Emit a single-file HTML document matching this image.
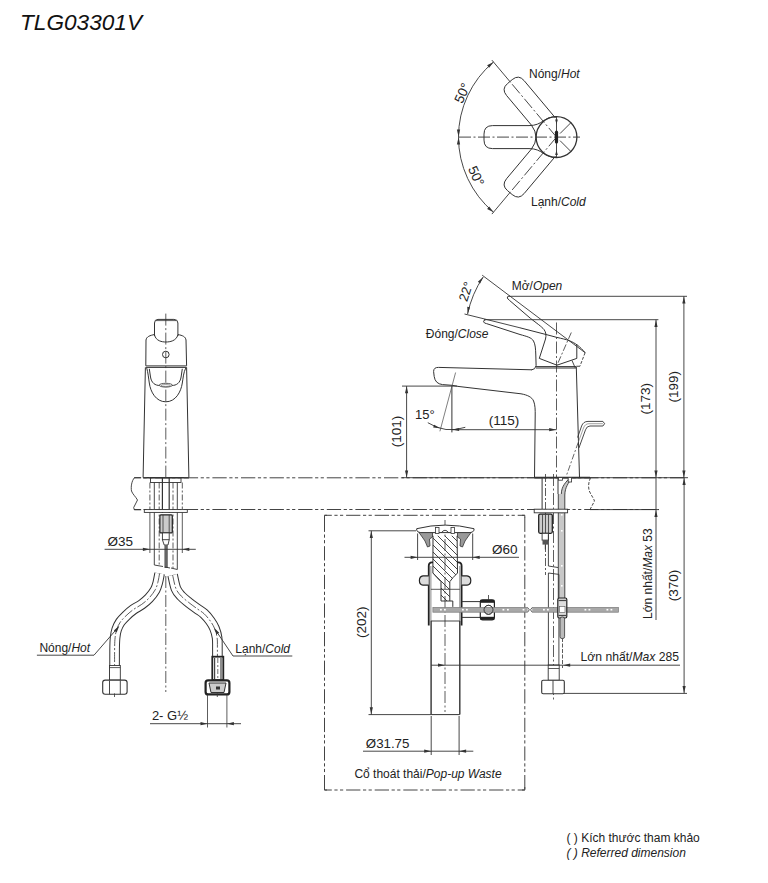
<!DOCTYPE html>
<html><head><meta charset="utf-8"><style>
html,body{margin:0;padding:0;background:#fff;overflow:hidden;width:768px;height:883px;}
svg{display:block;font-family:"Liberation Sans",sans-serif;}
</style></head><body>
<svg width="768" height="883" viewBox="0 0 768 883">
<rect width="768" height="883" fill="#fff"/>
<text x="20.00" y="30.00" font-size="21.5" text-anchor="start" font-style="italic" fill="#111" textLength="122" lengthAdjust="spacingAndGlyphs">TLG03301V</text>
<path d="M556.5,116.70 C543,116.70 543,125.60 529.00,125.60 L492.50,125.60 Q484.00,125.60 484.00,134.10 L484.00,140.10 Q484.00,148.60 492.50,148.60 L529.00,148.60 C543,148.60 543,157.50 556.5,157.50" stroke="#333" stroke-width="1" fill="none" />
<path d="M555.35,117.83 L524.17,80.68 Q518.71,74.17 512.20,79.63 L507.60,83.49 Q501.09,88.95 506.55,95.47 L531.43,125.11" stroke="#333" stroke-width="1" fill="none" />
<path d="M555.35,156.37 L524.17,193.52 Q518.71,200.03 512.20,194.57 L507.60,190.71 Q501.09,185.25 506.55,178.73 L531.43,149.09" stroke="#333" stroke-width="1" fill="none" />
<path d="M531.43,125.11 Q540.5,137.1 531.43,149.09" stroke="#333" stroke-width="1" fill="none" />
<circle cx="556.5" cy="137.1" r="20.4" stroke="#333" stroke-width="1.3" fill="none"/>
<line x1="459.00" y1="137.10" x2="580.00" y2="137.10" stroke="#333" stroke-width="0.9" stroke-dasharray="12 2.5 2 2.5"/>
<line x1="556.50" y1="137.10" x2="509.90" y2="81.56" stroke="#333" stroke-width="0.9" stroke-dasharray="12 2.5 2 2.5"/>
<line x1="509.90" y1="81.56" x2="491.90" y2="60.11" stroke="#333" stroke-width="0.9"/>
<line x1="556.50" y1="137.10" x2="509.90" y2="192.64" stroke="#333" stroke-width="0.9" stroke-dasharray="12 2.5 2 2.5"/>
<line x1="509.90" y1="192.64" x2="491.90" y2="214.09" stroke="#333" stroke-width="0.9"/>
<line x1="560.04" y1="133.56" x2="570.92" y2="122.68" stroke="#333" stroke-width="0.9"/>
<line x1="560.04" y1="140.64" x2="570.92" y2="151.52" stroke="#333" stroke-width="0.9"/>
<line x1="556.50" y1="116.70" x2="556.50" y2="157.50" stroke="#333" stroke-width="0.9"/>
<polygon points="556.50,124.60 555.20,119.60 557.80,119.60" fill="#333"/>
<polygon points="556.50,150.10 557.80,155.10 555.20,155.10" fill="#333"/>
<rect x="554.9" y="130.6" width="3.2" height="13" rx="1.6" fill="#222"/>
<path d="M493.51,62.03 A98,98 0 0 0 458.50,137.10 A98,98 0 0 0 493.51,212.17" stroke="#333" stroke-width="0.9" fill="none" />
<polygon points="493.51,62.03 489.17,67.75 487.12,65.30" fill="#333"/>
<polygon points="458.50,136.60 456.90,129.60 460.10,129.60" fill="#333"/>
<polygon points="458.50,137.60 460.10,144.60 456.90,144.60" fill="#333"/>
<polygon points="493.51,212.17 487.12,208.90 489.17,206.45" fill="#333"/>
<text x="466.50" y="95.00" font-size="13.5" text-anchor="middle" transform="rotate(-65 466.50 95.00)" fill="#222" >50°</text>
<text x="472.00" y="178.00" font-size="13.5" text-anchor="middle" transform="rotate(65 472.00 178.00)" fill="#222" >50°</text>
<text x="529" y="78" font-size="12" fill="#222">Nóng/<tspan font-style="italic">Hot</tspan></text>
<text x="531" y="206" font-size="12" fill="#222">Lạnh/<tspan font-style="italic">Cold</tspan></text>
<line x1="165.80" y1="313.60" x2="165.80" y2="477.00" stroke="#333" stroke-width="0.8" stroke-dasharray="12 2.5 2 2.5"/>
<path d="M154.5,336 L154.5,323 Q154.5,319.4 158,319.4 L173.9,319.4 Q177.9,319.4 177.9,323 L177.9,336" stroke="#333" stroke-width="1" fill="none" />
<line x1="156.00" y1="320.60" x2="176.00" y2="320.60" stroke="#333" stroke-width="0.8"/>
<path d="M154.5,335 C156,341 162,342 165.8,342 C170,342 176,341 177.9,335" stroke="#333" stroke-width="1" fill="none" />
<path d="M154.5,334.5 C150,335.5 146.5,336.5 146,340 L145.8,365.8" stroke="#333" stroke-width="1" fill="none" />
<path d="M177.9,334.5 C182.5,335.5 185.5,336.5 186,340 L186.6,365.8" stroke="#333" stroke-width="1" fill="none" />
<line x1="145.80" y1="365.90" x2="186.60" y2="365.90" stroke="#333" stroke-width="1"/>
<line x1="145.80" y1="367.40" x2="186.60" y2="367.40" stroke="#333" stroke-width="1"/>
<circle cx="165.8" cy="354.5" r="3.3" stroke="#333" stroke-width="1" fill="none"/>
<path d="M145.4,367.4 L143.1,477.5" stroke="#333" stroke-width="1" fill="none" />
<path d="M186.6,367.4 L188.9,477.5" stroke="#333" stroke-width="1" fill="none" />
<path d="M146.7,368 C148,372 148.5,378 149.3,383 C150.5,392 156,401.8 165.8,401.8 C175.6,401.8 181,392 182.3,383 C183.1,378 183.6,372 185.8,368" stroke="#333" stroke-width="1" fill="none" />
<path d="M149.3,368.8 L150.5,377 C151.5,383 155,385.5 160,385.5 L171.6,385.5 C176.6,385.5 180.1,383 181.1,377 L182.3,368.8" stroke="#333" stroke-width="1" fill="none" />
<ellipse cx="165.8" cy="385.2" rx="6.6" ry="1.9" stroke="#333" stroke-width="0.8" fill="#fff"/>
<ellipse cx="165.8" cy="385.6" rx="4.6" ry="1.0" stroke="#555" stroke-width="0.6" fill="none"/>
<line x1="143.10" y1="477.70" x2="188.90" y2="477.70" stroke="#333" stroke-width="1.6"/>
<line x1="134" y1="477.8" x2="687" y2="477.8" stroke="#444" stroke-width="1" stroke-dasharray="14.3 2.6 3.2 2.4 3.2 2.9" stroke-dashoffset="7.4"/>
<line x1="134" y1="509.5" x2="659" y2="509.5" stroke="#444" stroke-width="1" stroke-dasharray="14.3 2.6 3.2 2.4 3.2 2.9" stroke-dashoffset="7.4"/>
<path d="M141.2,477.7 L134.5,477.7 C131.5,481 130.8,487 131.5,491 C132.5,494 135.5,496.5 137.5,500 L133.7,507.5 L134.3,509.8 L141.2,509.8" stroke="#333" stroke-width="0.9" fill="none" />
<rect x="150.5" y="477.7" width="30.5" height="4.8" stroke="#333" stroke-width="0.9" fill="none"/>
<line x1="149.90" y1="482.50" x2="149.90" y2="509.00" stroke="#333" stroke-width="0.8" stroke-dasharray="6 2 2 2"/>
<line x1="182.30" y1="482.50" x2="182.30" y2="509.00" stroke="#333" stroke-width="0.8" stroke-dasharray="6 2 2 2"/>
<line x1="149.90" y1="512.30" x2="149.90" y2="553.00" stroke="#333" stroke-width="0.8"/>
<line x1="182.30" y1="512.30" x2="182.30" y2="553.00" stroke="#333" stroke-width="0.8"/>
<line x1="154.30" y1="482.50" x2="154.30" y2="565.00" stroke="#333" stroke-width="0.9"/>
<line x1="177.30" y1="482.50" x2="177.30" y2="569.50" stroke="#333" stroke-width="0.9"/>
<line x1="159.20" y1="482.50" x2="159.20" y2="566.00" stroke="#333" stroke-width="0.8" stroke-dasharray="6 2 2 2"/>
<line x1="173.00" y1="482.50" x2="173.00" y2="568.00" stroke="#333" stroke-width="0.8" stroke-dasharray="6 2 2 2"/>
<line x1="162.40" y1="477.70" x2="162.40" y2="513.00" stroke="#333" stroke-width="1.2"/>
<line x1="169.20" y1="477.70" x2="169.20" y2="513.00" stroke="#333" stroke-width="1.2"/>
<rect x="144.3" y="509.6" width="43" height="2.8" stroke="#333" stroke-width="0.9" fill="#fff"/>
<rect x="159.9" y="514.8" width="12.4" height="18.1" rx="1" stroke="#222" stroke-width="1.2" fill="#ccc"/>
<line x1="163.00" y1="515.00" x2="163.00" y2="532.50" stroke="#333" stroke-width="0.8"/>
<line x1="169.20" y1="515.00" x2="169.20" y2="532.50" stroke="#333" stroke-width="0.8"/>
<rect x="162.4" y="532.9" width="6.8" height="6.8" stroke="#333" stroke-width="0.9" fill="#fff"/>
<path d="M162.4,539.7 L164.2,545 L168,545 L169.2,539.7" stroke="#333" stroke-width="0.9" fill="none" />
<rect x="164.4" y="545" width="3.4" height="23" fill="#666"/>
<path d="M154.3,565 L163,566.5 M165,567 L170,568 M171,568 L177.3,569.5" stroke="#333" stroke-width="0.9" fill="none" />
<line x1="104.60" y1="549.30" x2="195.80" y2="549.30" stroke="#333" stroke-width="0.9"/>
<polygon points="149.90,549.30 142.90,550.90 142.90,547.70" fill="#333"/>
<polygon points="182.30,549.30 189.30,547.70 189.30,550.90" fill="#333"/>
<text x="107.50" y="546.00" font-size="13.5" text-anchor="start" fill="#222" >Ø35</text>
<path d="M159.60,573.50 C159.30,575.00 158.53,579.78 157.80,582.50 C157.07,585.22 156.67,587.20 155.20,589.80 C153.73,592.40 151.25,595.67 149.00,598.10 C146.75,600.53 144.32,602.48 141.70,604.40 C139.08,606.32 135.92,607.70 133.30,609.60 C130.68,611.50 128.17,613.72 126.00,615.80 C123.83,617.88 121.85,619.83 120.30,622.10 C118.75,624.37 117.57,626.80 116.70,629.40 C115.83,632.00 115.45,634.27 115.10,637.70 C114.75,641.13 114.68,642.95 114.60,650.00 C114.52,657.05 114.60,675.00 114.60,680.00" stroke="#333" stroke-width="10.6" fill="none" />
<path d="M159.60,573.50 C159.30,575.00 158.53,579.78 157.80,582.50 C157.07,585.22 156.67,587.20 155.20,589.80 C153.73,592.40 151.25,595.67 149.00,598.10 C146.75,600.53 144.32,602.48 141.70,604.40 C139.08,606.32 135.92,607.70 133.30,609.60 C130.68,611.50 128.17,613.72 126.00,615.80 C123.83,617.88 121.85,619.83 120.30,622.10 C118.75,624.37 117.57,626.80 116.70,629.40 C115.83,632.00 115.45,634.27 115.10,637.70 C114.75,641.13 114.68,642.95 114.60,650.00 C114.52,657.05 114.60,675.00 114.60,680.00" stroke="#fff" stroke-width="8.6" fill="none" />
<path d="M159.60,573.50 C159.30,575.00 158.53,579.78 157.80,582.50 C157.07,585.22 156.67,587.20 155.20,589.80 C153.73,592.40 151.25,595.67 149.00,598.10 C146.75,600.53 144.32,602.48 141.70,604.40 C139.08,606.32 135.92,607.70 133.30,609.60 C130.68,611.50 128.17,613.72 126.00,615.80 C123.83,617.88 121.85,619.83 120.30,622.10 C118.75,624.37 117.57,626.80 116.70,629.40 C115.83,632.00 115.45,634.27 115.10,637.70 C114.75,641.13 114.68,642.95 114.60,650.00 C114.52,657.05 114.60,675.00 114.60,680.00" stroke="#333" stroke-width="0.8" fill="none" stroke-dasharray="10 2 2 2" />
<path d="M172.60,575.00 C173.17,577.29 174.57,585.25 176.00,588.75 C177.43,592.25 179.12,593.74 181.20,596.00 C183.28,598.26 185.90,600.22 188.50,602.30 C191.10,604.38 194.20,606.59 196.80,608.50 C199.40,610.41 201.85,611.67 204.10,613.75 C206.35,615.83 208.57,618.58 210.30,621.00 C212.03,623.42 213.37,625.52 214.50,628.30 C215.63,631.08 216.62,634.08 217.10,637.70 C217.58,641.32 217.35,642.95 217.40,650.00 C217.45,657.05 217.40,675.00 217.40,680.00" stroke="#333" stroke-width="10.6" fill="none" />
<path d="M172.60,575.00 C173.17,577.29 174.57,585.25 176.00,588.75 C177.43,592.25 179.12,593.74 181.20,596.00 C183.28,598.26 185.90,600.22 188.50,602.30 C191.10,604.38 194.20,606.59 196.80,608.50 C199.40,610.41 201.85,611.67 204.10,613.75 C206.35,615.83 208.57,618.58 210.30,621.00 C212.03,623.42 213.37,625.52 214.50,628.30 C215.63,631.08 216.62,634.08 217.10,637.70 C217.58,641.32 217.35,642.95 217.40,650.00 C217.45,657.05 217.40,675.00 217.40,680.00" stroke="#fff" stroke-width="8.6" fill="none" />
<path d="M172.60,575.00 C173.17,577.29 174.57,585.25 176.00,588.75 C177.43,592.25 179.12,593.74 181.20,596.00 C183.28,598.26 185.90,600.22 188.50,602.30 C191.10,604.38 194.20,606.59 196.80,608.50 C199.40,610.41 201.85,611.67 204.10,613.75 C206.35,615.83 208.57,618.58 210.30,621.00 C212.03,623.42 213.37,625.52 214.50,628.30 C215.63,631.08 216.62,634.08 217.10,637.70 C217.58,641.32 217.35,642.95 217.40,650.00 C217.45,657.05 217.40,675.00 217.40,680.00" stroke="#333" stroke-width="0.8" fill="none" stroke-dasharray="10 2 2 2" />
<line x1="165.80" y1="576.00" x2="165.80" y2="692.00" stroke="#333" stroke-width="0.8" stroke-dasharray="12 2.5 2 2.5"/>
<rect x="109.5" y="665.5" width="10.8" height="14.6" stroke="#333" stroke-width="0.9" fill="#fff"/>
<line x1="109.50" y1="667.60" x2="120.30" y2="667.60" stroke="#333" stroke-width="0.8"/>
<rect x="102.7" y="680.1" width="24.4" height="14.2" rx="2.5" stroke="#333" stroke-width="1.1" fill="#fff"/>
<line x1="109.50" y1="680.50" x2="109.50" y2="694.30" stroke="#333" stroke-width="0.9"/>
<line x1="120.30" y1="680.50" x2="120.30" y2="694.30" stroke="#333" stroke-width="0.9"/>
<rect x="212.3" y="656.7" width="11" height="23.4" stroke="#222" stroke-width="1.8" fill="#fff"/>
<line x1="214.60" y1="658.00" x2="214.60" y2="679.00" stroke="#444" stroke-width="1.2"/>
<line x1="221.00" y1="658.00" x2="221.00" y2="679.00" stroke="#444" stroke-width="1.2"/>
<line x1="217.80" y1="658.00" x2="217.80" y2="679.00" stroke="#333" stroke-width="0.7" stroke-dasharray="5 2 2 2"/>
<rect x="205.6" y="680.4" width="23.8" height="14" rx="2.5" stroke="#222" stroke-width="2.2" fill="#fff"/>
<path d="M209,683 L226,683 L224,692.5 L211,692.5 Z" stroke="#333" stroke-width="1" fill="#ccc"/>
<rect x="216" y="686.5" width="4" height="3" fill="#333"/>
<line x1="114.50" y1="693.40" x2="114.50" y2="697.00" stroke="#333" stroke-width="0.8"/>
<line x1="217.30" y1="693.40" x2="217.30" y2="697.00" stroke="#333" stroke-width="0.8"/>
<text x="39.4" y="652" font-size="12" fill="#222">Nóng/<tspan font-style="italic">Hot</tspan></text>
<path d="M36.9,655.2 L94,655.2 L118,627.5" stroke="#333" stroke-width="0.9" fill="none" />
<polygon points="119.30,625.70 116.65,632.40 113.87,630.44" fill="#333"/>
<text x="235.3" y="653.3" font-size="12" fill="#222">Lạnh/<tspan font-style="italic">Cold</tspan></text>
<path d="M292.3,656 L233,656 L215.5,630" stroke="#333" stroke-width="0.9" fill="none" />
<polygon points="214.00,627.80 219.23,632.75 216.38,634.60" fill="#333"/>
<line x1="150.00" y1="723.70" x2="241.00" y2="723.70" stroke="#333" stroke-width="0.9"/>
<polygon points="207.50,723.70 200.50,725.30 200.50,722.10" fill="#333"/>
<polygon points="226.90,723.70 233.90,722.10 233.90,725.30" fill="#333"/>
<line x1="207.50" y1="694.50" x2="207.50" y2="727.50" stroke="#333" stroke-width="0.8"/>
<line x1="226.90" y1="694.50" x2="226.90" y2="727.50" stroke="#333" stroke-width="0.8"/>
<text x="151.90" y="719.50" font-size="13" text-anchor="start" fill="#222" >2- G½</text>
<line x1="482.20" y1="275.20" x2="585.10" y2="352.70" stroke="#333" stroke-width="0.9"/>
<line x1="509.00" y1="296.30" x2="687.00" y2="296.30" stroke="#333" stroke-width="0.9"/>
<line x1="484.00" y1="319.70" x2="658.40" y2="319.70" stroke="#333" stroke-width="0.9"/>
<line x1="464.50" y1="314.00" x2="520.00" y2="327.80" stroke="#333" stroke-width="0.9"/>
<path d="M483.2,277 A104,104 0 0 0 467.6,314" stroke="#333" stroke-width="0.9" fill="none" />
<polygon points="483.20,277.00 480.12,283.44 477.88,281.76" fill="#333"/>
<polygon points="467.60,314.00 467.25,306.87 470.02,307.29" fill="#333"/>
<text x="470.00" y="293.00" font-size="13" text-anchor="middle" transform="rotate(-72 470.00 293.00)" fill="#222" >22°</text>
<text x="511.7" y="290" font-size="12" fill="#222">Mở/<tspan font-style="italic">Open</tspan></text>
<text x="425.8" y="337.5" font-size="12" fill="#222">Đóng/<tspan font-style="italic">Close</tspan></text>
<path d="M485.5,319.8 Q483.2,320.3 483.6,321.8 Q484.2,323.4 486.5,323.6 L520,334.5 C527,336.5 531.5,337.5 533.5,341 C535.4,344.5 535.6,349 535.8,355 L536.1,365.5 Q535.5,369.6 531.5,369.9" stroke="#333" stroke-width="1" fill="none" />
<path d="M520,327.8 L546,334.5 L556.5,337.3 C562,338.6 566,339.4 569,340.6 C575,342.8 580,346.5 585.1,352.7" stroke="#333" stroke-width="1" fill="none" />
<line x1="585.10" y1="352.70" x2="579.90" y2="366.25" stroke="#333" stroke-width="0.9" stroke-dasharray="3 1.5"/>
<line x1="579.90" y1="366.25" x2="576.30" y2="366.25" stroke="#333" stroke-width="0.9"/>
<path d="M509.5,295.9 Q507,296.2 507.3,298 Q507.8,299 509.5,300.4 L530.4,318.3 C537,323.5 541.5,326.5 544,329.5 C546.2,332.5 546.3,335.5 545.5,339 L539.3,358.4 L557,365.2 L576.8,358.4 L576.8,344.4" stroke="#333" stroke-width="1" fill="none" />
<line x1="571.30" y1="332.50" x2="557.00" y2="365.20" stroke="#333" stroke-width="0.8" stroke-dasharray="7 2 2 2"/>
<line x1="556.50" y1="322.50" x2="556.50" y2="478.00" stroke="#333" stroke-width="0.8" stroke-dasharray="12 2.5 2 2.5"/>
<line x1="572.00" y1="360.50" x2="575.20" y2="367.80" stroke="#333" stroke-width="0.9"/>
<line x1="536.00" y1="366.60" x2="576.30" y2="366.60" stroke="#333" stroke-width="1"/>
<line x1="536.00" y1="368.00" x2="576.30" y2="368.00" stroke="#333" stroke-width="1"/>
<path d="M576.3,367 L579.5,477.6" stroke="#333" stroke-width="1" fill="none" />
<path d="M532,369.8 L438.5,367.4 Q433.6,367.3 433.6,371.5 L434.2,376.5 Q435.2,383.8 442.5,384.6 L452,385.3 L458.2,386.4" stroke="#333" stroke-width="1" fill="none" />
<path d="M458,386.4 L521,393.8 C527.5,395 531.8,397 533.6,401 C535.2,405 535.3,410 535.2,416 L534.5,477.6" stroke="#333" stroke-width="1" fill="none" />
<line x1="451.90" y1="386.20" x2="451.90" y2="432.40" stroke="#333" stroke-width="1"/>
<line x1="455.60" y1="372.50" x2="439.90" y2="431.30" stroke="#555" stroke-width="0.75"/>
<path d="M427.8,422.7 A43.6,43.6 0 0 0 465.3,427.3" stroke="#333" stroke-width="0.9" fill="none" />
<polygon points="440.30,428.20 433.18,427.50 434.09,424.64" fill="#333"/>
<polygon points="452.10,429.60 459.10,428.10 459.10,431.10" fill="#333"/>
<text x="415.00" y="419.40" font-size="13" text-anchor="start" fill="#222" >15°</text>
<line x1="451.90" y1="429.70" x2="556.50" y2="429.70" stroke="#333" stroke-width="0.9"/>
<polygon points="556.20,429.70 549.20,431.30 549.20,428.10" fill="#333"/>
<text x="504.00" y="425.00" font-size="13.5" text-anchor="middle" fill="#222" >(115)</text>
<line x1="402.00" y1="386.10" x2="457.00" y2="386.10" stroke="#333" stroke-width="0.9"/>
<line x1="406.60" y1="386.10" x2="406.60" y2="477.70" stroke="#333" stroke-width="0.9"/>
<polygon points="406.60,386.30 408.20,393.30 405.00,393.30" fill="#333"/>
<polygon points="406.60,477.40 405.00,470.40 408.20,470.40" fill="#333"/>
<text x="400.90" y="431.50" font-size="13.5" text-anchor="middle" transform="rotate(-90 400.90 431.50)" fill="#222" >(101)</text>
<path d="M602.9,421.4 L588,421.4 Q583.3,421.4 581.6,426 L577.6,437.5" stroke="#333" stroke-width="0.9" fill="none" />
<path d="M602.9,426 L590,426 Q586.8,426 585.5,429.8 L578.9,448" stroke="#333" stroke-width="0.9" fill="none" />
<path d="M602.9,423.7 L589,423.7 Q585,423.7 583.5,428 L578.2,442.5" stroke="#666" stroke-width="0.6" fill="none" />
<path d="M602.9,421.4 L604.6,423.7 L602.9,426" stroke="#333" stroke-width="0.9" fill="none" />
<line x1="578.20" y1="442.50" x2="566.40" y2="475.60" stroke="#333" stroke-width="0.75" stroke-dasharray="6 2 2 2"/>
<line x1="534.40" y1="477.60" x2="590.00" y2="477.60" stroke="#333" stroke-width="1.6"/>
<line x1="656.00" y1="319.70" x2="656.00" y2="477.70" stroke="#333" stroke-width="0.9"/>
<polygon points="656.00,320.00 657.60,327.00 654.40,327.00" fill="#333"/>
<polygon points="656.00,477.40 654.40,470.40 657.60,470.40" fill="#333"/>
<text x="650.30" y="398.70" font-size="13.5" text-anchor="middle" transform="rotate(-90 650.30 398.70)" fill="#222" >(173)</text>
<line x1="683.90" y1="296.30" x2="683.90" y2="477.70" stroke="#333" stroke-width="0.9"/>
<polygon points="683.90,296.60 685.50,303.60 682.30,303.60" fill="#333"/>
<polygon points="683.90,477.40 682.30,470.40 685.50,470.40" fill="#333"/>
<text x="678.20" y="386.80" font-size="13.5" text-anchor="middle" transform="rotate(-90 678.20 386.80)" fill="#222" >(199)</text>
<line x1="402.00" y1="477.70" x2="688.00" y2="477.70" stroke="#333" stroke-width="0.9"/>
<path d="M590.5,477.8 C588.5,482 588,487 589.3,491 C591,495 593.5,498 594.5,501 L590,509.6" stroke="#333" stroke-width="0.9" fill="none" stroke-dasharray="3 1.5" />
<line x1="542.10" y1="477.60" x2="542.10" y2="509.30" stroke="#333" stroke-width="1"/>
<line x1="545.50" y1="474.00" x2="545.50" y2="575.00" stroke="#333" stroke-width="0.8" stroke-dasharray="8 2 2 2"/>
<line x1="553.50" y1="474.00" x2="553.50" y2="700.00" stroke="#333" stroke-width="0.8" stroke-dasharray="12 2.5 2 2.5"/>
<line x1="558.00" y1="478.00" x2="558.00" y2="494.00" stroke="#333" stroke-width="1"/>
<path d="M569.9,477.8 C566,482 561.5,486 561.3,494 L558.6,494 L558.6,598 L564.8,598 L564.8,495 C565,487 568.5,483 572,477.8 Z" fill="#c8c8c8"/>
<path d="M569.9,477.8 C566,482 561.5,486 561.3,494" stroke="#333" stroke-width="0.9" fill="none" />
<path d="M572,477.8 C568.5,483 565,487 564.8,495 L564.8,598" stroke="#333" stroke-width="0.9" fill="none" />
<rect x="558.5" y="477.6" width="4" height="2.6" stroke="#333" stroke-width="0.8" fill="#fff"/>
<rect x="568.2" y="477.6" width="3.4" height="4.4" stroke="#333" stroke-width="0.8" fill="#fff"/>
<line x1="558.30" y1="494.00" x2="558.30" y2="598.00" stroke="#333" stroke-width="0.9"/>
<rect x="561" y="514" width="1.6" height="1.6" fill="#fff"/>
<rect x="561" y="530" width="1.6" height="1.6" fill="#fff"/>
<rect x="561" y="565" width="1.6" height="1.6" fill="#fff"/>
<rect x="561" y="585" width="1.6" height="1.6" fill="#fff"/>
<rect x="534.2" y="509.2" width="33.4" height="3.6" stroke="#333" stroke-width="0.9" fill="#fff"/>
<rect x="538.7" y="514.1" width="13.6" height="19.2" rx="1.5" stroke="#222" stroke-width="1.3" fill="#ccc"/>
<line x1="542.50" y1="514.50" x2="542.50" y2="533.00" stroke="#333" stroke-width="0.8"/>
<line x1="545.50" y1="514.50" x2="545.50" y2="533.00" stroke="#333" stroke-width="0.8"/>
<line x1="548.50" y1="514.50" x2="548.50" y2="533.00" stroke="#333" stroke-width="0.8"/>
<rect x="542.1" y="533.3" width="6.3" height="6.8" stroke="#333" stroke-width="0.9" fill="#fff"/>
<rect x="542.5" y="540.1" width="5.5" height="4.5" fill="#555"/>
<line x1="545.30" y1="544.60" x2="545.30" y2="549.50" stroke="#333" stroke-width="0.8"/>
<line x1="548.40" y1="534.50" x2="548.40" y2="566.00" stroke="#333" stroke-width="0.9"/>
<path d="M548.4,566 L558,567.5" stroke="#333" stroke-width="0.9" fill="none" />
<path d="M548.4,573 L558.9,574.4" stroke="#333" stroke-width="0.9" fill="none" />
<line x1="548.40" y1="573.00" x2="548.40" y2="665.00" stroke="#333" stroke-width="0.9"/>
<line x1="558.90" y1="574.40" x2="558.90" y2="665.00" stroke="#333" stroke-width="0.9"/>
<rect x="548.2" y="665" width="11" height="15.3" stroke="#333" stroke-width="0.9" fill="#fff"/>
<line x1="548.20" y1="668.50" x2="559.20" y2="668.50" stroke="#333" stroke-width="0.8"/>
<rect x="541.7" y="680.3" width="22.6" height="13.5" rx="1.5" stroke="#333" stroke-width="1.1" fill="#fff"/>
<line x1="553.00" y1="680.50" x2="553.00" y2="693.50" stroke="#333" stroke-width="0.9"/>
<line x1="562.50" y1="638.00" x2="562.50" y2="668.00" stroke="#333" stroke-width="0.8" stroke-dasharray="4 1.5"/>
<line x1="324.5" y1="515.3" x2="524.8" y2="515.3" stroke="#444" stroke-width="1" stroke-dasharray="14.3 2.6 3.2 2.4 3.2 2.9" stroke-dashoffset="7.0"/>
<line x1="324.5" y1="790" x2="524.8" y2="790" stroke="#444" stroke-width="1" stroke-dasharray="14.3 2.6 3.2 2.4 3.2 2.9" stroke-dashoffset="7.0"/>
<line x1="324.5" y1="515.3" x2="324.5" y2="790" stroke="#444" stroke-width="1" stroke-dasharray="14.3 2.6 3.2 2.4 3.2 2.9" stroke-dashoffset="-2.3"/>
<line x1="524.8" y1="515.3" x2="524.8" y2="790" stroke="#444" stroke-width="1" stroke-dasharray="14.3 2.6 3.2 2.4 3.2 2.9" stroke-dashoffset="-2.3"/>
<path d="M324.5,518 L324.5,515.3 L327,515.3 M524.8,518 L524.8,515.3 L522,515.3 M324.5,787 L324.5,790 L327,790 M524.8,787 L524.8,790 L522,790" stroke="#444" stroke-width="1" fill="none"/>
<line x1="445.00" y1="520.00" x2="445.00" y2="712.00" stroke="#333" stroke-width="0.8" stroke-dasharray="12 2.5 2 2.5"/>
<path d="M416.7,528.7 Q445,521.5 474,528.7 L474,530.2 Q473,532.6 470,532.6 L420.5,532.6 Q417.7,532.6 416.7,530.2 Z" stroke="#333" stroke-width="1" fill="#fff" />
<path d="M419,532.6 L432.5,532.6 L432.5,537 L429.5,539 L430,546 L427.5,547 L425,541 L421.5,536 Z" fill="#999" stroke="#333" stroke-width="0.8"/>
<path d="M471,532.6 L457.5,532.6 L457.5,537 L460.5,539 L460,546 L462.5,547 L465,541 L468.5,536 Z" fill="#999" stroke="#333" stroke-width="0.8"/>
<rect x="435.5" y="527.5" width="3.5" height="6" stroke="#333" stroke-width="0.8" fill="#fff"/>
<rect x="451" y="527.5" width="3.5" height="6" stroke="#333" stroke-width="0.8" fill="#fff"/>
<path d="M441,533 Q445,527.5 449,533" stroke="#333" stroke-width="0.9" fill="none" />
<defs><clipPath id="stemclip"><path d="M433,535.8 L457.1,535.8 L457.5,573 L453,577.6 L449.8,581.7 L449.8,601 L441,601 L441,581.7 L437,577.6 L432.9,573 Z"/></clipPath></defs>
<g clip-path="url(#stemclip)"><path d="M355,530 L435,610 M362,530 L442,610 M369,530 L449,610 M376,530 L456,610 M383,530 L463,610 M390,530 L470,610 M397,530 L477,610 M404,530 L484,610 M411,530 L491,610 M418,530 L498,610 M425,530 L505,610 M432,530 L512,610 M439,530 L519,610 M446,530 L526,610 M453,530 L533,610 M460,530 L540,610 M467,530 L547,610" stroke="#333" stroke-width="0.9" fill="none"/></g>
<path d="M433,535.8 L432.9,573 L437,577.6 L441,581.7 L441,601 L452.8,601 L452.8,606.9 M449.8,601 L449.8,581.7 L453,577.6 L457.5,573 L457.1,535.8" stroke="#333" stroke-width="1" fill="none" />
<path d="M428.75,625.6 L428.75,566 Q428.75,562.3 432,562.3 L433,562.3 M457.1,562.3 L458.5,562.3 Q461.6,562.3 461.6,566 L461.6,625.6" stroke="#222" stroke-width="1.8" fill="none" />
<line x1="430.90" y1="566.00" x2="430.90" y2="621.00" stroke="#555" stroke-width="0.7"/>
<line x1="459.80" y1="566.00" x2="459.80" y2="621.00" stroke="#555" stroke-width="0.7"/>
<path d="M428.75,575.8 L423,575.8 Q419.4,576.3 419.4,580.5 Q419.4,584.7 423,585.2 L428.75,585.2 M461.6,575.8 L467,575.8 Q470.8,576.3 470.8,580.5 Q470.8,584.7 467,585.2 L461.6,585.2" stroke="#222" stroke-width="1.2" fill="#ddd" />
<line x1="430.90" y1="589.30" x2="459.80" y2="589.30" stroke="#333" stroke-width="0.8"/>
<line x1="430.90" y1="621.00" x2="459.80" y2="621.00" stroke="#333" stroke-width="0.9"/>
<line x1="431.10" y1="621.00" x2="431.10" y2="714.60" stroke="#333" stroke-width="1.4"/>
<line x1="459.80" y1="621.00" x2="459.80" y2="714.60" stroke="#333" stroke-width="1.4"/>
<line x1="431.10" y1="714.60" x2="459.80" y2="714.60" stroke="#333" stroke-width="1"/>
<line x1="461.60" y1="601.60" x2="480.30" y2="601.60" stroke="#333" stroke-width="1"/>
<line x1="461.60" y1="617.40" x2="480.30" y2="617.40" stroke="#333" stroke-width="1"/>
<rect x="480.3" y="599.8" width="14.1" height="20" rx="2.5" stroke="#222" stroke-width="1.2" fill="#fff"/>
<rect x="480.3" y="599.8" width="14.1" height="3" fill="#222"/>
<rect x="480.3" y="616.8" width="14.1" height="3" fill="#222"/>
<circle cx="488.5" cy="609.8" r="4.5" stroke="#333" stroke-width="0.9" fill="#fff"/>
<line x1="488.50" y1="595.00" x2="488.50" y2="600.00" stroke="#333" stroke-width="0.8"/>
<rect x="432.9" y="607.5" width="185.5" height="4.7" stroke="#777" stroke-width="0.7" fill="#a8a8a8"/>
<rect x="440" y="608.9" width="1.8" height="1.6" fill="#fff"/>
<rect x="444" y="608.9" width="1.8" height="1.6" fill="#fff"/>
<rect x="462" y="608.9" width="1.8" height="1.6" fill="#fff"/>
<rect x="466" y="608.9" width="1.8" height="1.6" fill="#fff"/>
<rect x="502.5" y="608.9" width="1.8" height="1.6" fill="#fff"/>
<rect x="507" y="608.9" width="1.8" height="1.6" fill="#fff"/>
<rect x="522.6" y="608.9" width="1.8" height="1.6" fill="#fff"/>
<rect x="543" y="608.9" width="1.8" height="1.6" fill="#fff"/>
<rect x="547" y="608.9" width="1.8" height="1.6" fill="#fff"/>
<rect x="584.5" y="608.9" width="1.8" height="1.6" fill="#fff"/>
<rect x="588.5" y="608.9" width="1.8" height="1.6" fill="#fff"/>
<rect x="606.5" y="608.9" width="1.8" height="1.6" fill="#fff"/>
<rect x="610.5" y="608.9" width="1.8" height="1.6" fill="#fff"/>
<rect x="527.6" y="606.5" width="4.6" height="6.5" fill="#fff"/>
<path d="M527.6,607.5 L529.3,609.8 L527.6,612.2 M532.2,607.5 L530.5,609.8 L532.2,612.2" stroke="#333" stroke-width="0.8" fill="none" />
<circle cx="488.5" cy="609.8" r="4.5" stroke="#333" stroke-width="0.9" fill="none"/>
<rect x="557.8" y="598" width="9" height="20" rx="1.5" stroke="#222" stroke-width="1.2" fill="#ddd"/>
<line x1="558.50" y1="600.50" x2="566.00" y2="600.50" stroke="#444" stroke-width="1.2"/>
<line x1="558.50" y1="615.50" x2="566.00" y2="615.50" stroke="#444" stroke-width="1.2"/>
<rect x="559.6" y="606.5" width="5.4" height="6" fill="#fff" stroke="#555" stroke-width="0.6"/>
<rect x="560" y="617" width="4.6" height="21.6" rx="2" stroke="#333" stroke-width="0.8" fill="#bbb"/>
<line x1="368.50" y1="530.80" x2="416.00" y2="530.80" stroke="#333" stroke-width="0.9"/>
<line x1="368.50" y1="714.60" x2="431.00" y2="714.60" stroke="#333" stroke-width="0.9"/>
<line x1="371.30" y1="530.80" x2="371.30" y2="714.60" stroke="#333" stroke-width="0.9"/>
<polygon points="371.30,531.10 372.90,538.10 369.70,538.10" fill="#333"/>
<polygon points="371.30,714.30 369.70,707.30 372.90,707.30" fill="#333"/>
<text x="365.70" y="622.30" font-size="13.5" text-anchor="middle" transform="rotate(-90 365.70 622.30)" fill="#222" >(202)</text>
<line x1="404.50" y1="557.30" x2="519.00" y2="557.30" stroke="#333" stroke-width="0.9"/>
<line x1="417.60" y1="533.50" x2="417.60" y2="560.00" stroke="#333" stroke-width="0.9"/>
<line x1="472.70" y1="533.50" x2="472.70" y2="560.00" stroke="#333" stroke-width="0.9"/>
<polygon points="417.60,557.30 410.60,558.90 410.60,555.70" fill="#333"/>
<polygon points="472.70,557.30 479.70,555.70 479.70,558.90" fill="#333"/>
<text x="492.00" y="554.40" font-size="13.5" text-anchor="start" fill="#222" >Ø60</text>
<line x1="363.00" y1="751.20" x2="473.30" y2="751.20" stroke="#333" stroke-width="0.9"/>
<line x1="431.20" y1="716.00" x2="431.20" y2="755.00" stroke="#333" stroke-width="0.9"/>
<line x1="459.10" y1="716.00" x2="459.10" y2="755.00" stroke="#333" stroke-width="0.9"/>
<polygon points="431.20,751.20 424.20,752.80 424.20,749.60" fill="#333"/>
<polygon points="459.10,751.20 466.10,749.60 466.10,752.80" fill="#333"/>
<text x="365.80" y="747.50" font-size="13.3" text-anchor="start" fill="#222" >Ø31.75</text>
<text x="354.4" y="777.6" font-size="12" fill="#222">Cổ thoát thải/<tspan font-style="italic">Pop-up Waste</tspan></text>
<line x1="431.20" y1="665.20" x2="680.00" y2="665.20" stroke="#333" stroke-width="0.9"/>
<polygon points="445.00,665.20 438.00,666.80 438.00,663.60" fill="#333"/>
<polygon points="563.20,665.20 570.20,663.60 570.20,666.80" fill="#333"/>
<text x="580.6" y="660.7" font-size="12.15" fill="#222">Lớn nhất/<tspan font-style="italic">Max</tspan> 285</text>
<line x1="656.00" y1="477.70" x2="656.00" y2="620.00" stroke="#333" stroke-width="0.9"/>
<polygon points="656.00,509.90 657.60,516.90 654.40,516.90" fill="#333"/>
<line x1="590.00" y1="509.60" x2="659.00" y2="509.60" stroke="#333" stroke-width="0.9"/>
<text x="0" y="0" font-size="12" fill="#222" transform="translate(652,619) rotate(-90)">Lớn nhất/<tspan font-style="italic">Max</tspan> 53</text>
<line x1="684.10" y1="477.70" x2="684.10" y2="693.40" stroke="#333" stroke-width="0.9"/>
<polygon points="684.10,478.00 685.70,485.00 682.50,485.00" fill="#333"/>
<polygon points="684.10,693.10 682.50,686.10 685.70,686.10" fill="#333"/>
<line x1="564.00" y1="693.40" x2="687.00" y2="693.40" stroke="#333" stroke-width="0.9"/>
<text x="678.40" y="585.50" font-size="13.5" text-anchor="middle" transform="rotate(-90 678.40 585.50)" fill="#222" >(370)</text>
<text x="566.50" y="841.50" font-size="12" text-anchor="start" fill="#222" >( ) Kích thước tham khảo</text>
<text x="566.50" y="857.00" font-size="12" text-anchor="start" font-style="italic" fill="#222" >( ) Referred dimension</text>
</svg></body></html>
